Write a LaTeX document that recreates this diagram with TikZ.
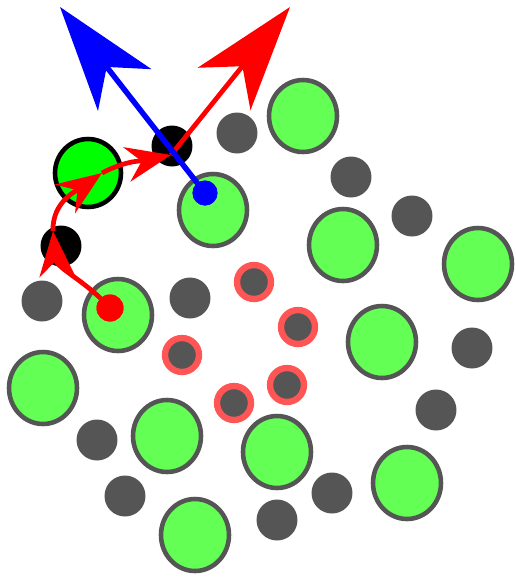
\documentclass[tikz,border=0pt]{standalone}
\usetikzlibrary{arrows.meta,shapes.geometric,positioning}
\definecolor{atomgreen}{RGB}{100,255,85}
\definecolor{atomgray}{RGB}{85,85,85}
\definecolor{ringred}{RGB}{255,85,85}

\begin{document}
\begin{tikzpicture}[x=0.02cm,y=-0.02cm]
    \tikzstyle{big atom}=[ellipse,draw=atomgray,fill=atomgreen,line width=2.6pt,minimum width=1.36cm,minimum height=1.44cm,inner sep=0pt]
    \tikzstyle{small atom}=[circle,fill=atomgray,minimum size=0.82cm,inner sep=0pt]
    \tikzstyle{ring atom}=[circle,draw=ringred,fill=atomgray,line width=3.6pt,minimum size=0.68cm,inner sep=0pt]
    \tikzstyle{hop atom}=[small atom,fill=black]
    \tikzstyle{hop site}=[big atom,draw=black,fill=green,minimum width=1.32cm,minimum height=1.36cm]
    \tikzstyle{marker}=[circle,inner sep=0pt]
    \tikzstyle{hop}=[red,line width=2.7pt,-{Stealth[length=0.9cm,width=0.7cm,inset=0.3cm]}]
    \tikzstyle{jump}=[line width=2.7pt,-{Stealth[length=2.1cm,width=1.35cm,inset=0.58cm]}]

\useasboundingbox (0,0) rectangle (515,579);

% Grands atomes
\node[big atom] (G-1) at (303,116) {};
\node[big atom] (G-2) at (213,210) {};
\node[big atom] (G-3) at (343,245) {};
\node[big atom] (G-4) at (478,264) {};
\node[big atom] (G-5) at (118,315) {};
\node[big atom] (G-6) at (382,342) {};
\node[big atom] (G-7) at (43,388) {};
\node[big atom] (G-8) at (167,436) {};
\node[big atom] (G-9) at (277,452) {};
\node[big atom] (G-10) at (407,483) {};
\node[big atom] (G-11) at (195,535) {};

% Petits atomes
\node[small atom] (S-1) at (237,133) {};
\node[small atom] (S-2) at (351,177) {};
\node[small atom] (S-3) at (412,216) {};
\node[small atom] (S-4) at (42,301) {};
\node[small atom] (S-5) at (190,298) {};
\node[small atom] (S-6) at (472,348) {};
\node[small atom] (S-7) at (436,410) {};
\node[small atom] (S-8) at (97,440) {};
\node[small atom] (S-9) at (125,496) {};
\node[small atom] (S-10) at (332,493) {};
\node[small atom] (S-11) at (277,520) {};

% Lacunes
\node[ring atom] (R-1) at (254,282) {};
\node[ring atom] (R-2) at (298,327) {};
\node[ring atom] (R-3) at (182,355) {};
\node[ring atom] (R-4) at (287,385) {};
\node[ring atom] (R-5) at (234,403) {};

% Sites du saut
\node[hop site] (H-1) at (88,173) {};
\node[hop atom] (H-2) at (172,146) {};
\node[hop atom] (H-3) at (61,246) {};

% Chemin rouge
\node[marker,fill=red,minimum size=0.54cm] (rdot) at (110,308) {};
\coordinate (k1) at (53,231);
\coordinate (k2) at (102,173);
\coordinate (k3) at (171,155);
\coordinate (rend) at (290,7);
\draw[hop] (rdot.center) to[out=132,in=-85] (k1);
\draw[hop] (k1) to[out=92,in=215] (k2);
\draw[hop] (k2) to[out=28,in=192] (k3);
\draw[jump,red] (k3) -- (rend);
\node[marker,fill=red,minimum size=0.54cm] at (rdot) {};

% Fleche bleue
\node[marker,fill=blue,minimum size=0.5cm] (bdot) at (205,193) {};
\coordinate (bend) at (60,7);
\draw[jump,blue,line width=3.1pt] (bdot.center) -- (bend);
\node[marker,fill=blue,minimum size=0.5cm] at (bdot) {};

\end{tikzpicture}
\end{document}
